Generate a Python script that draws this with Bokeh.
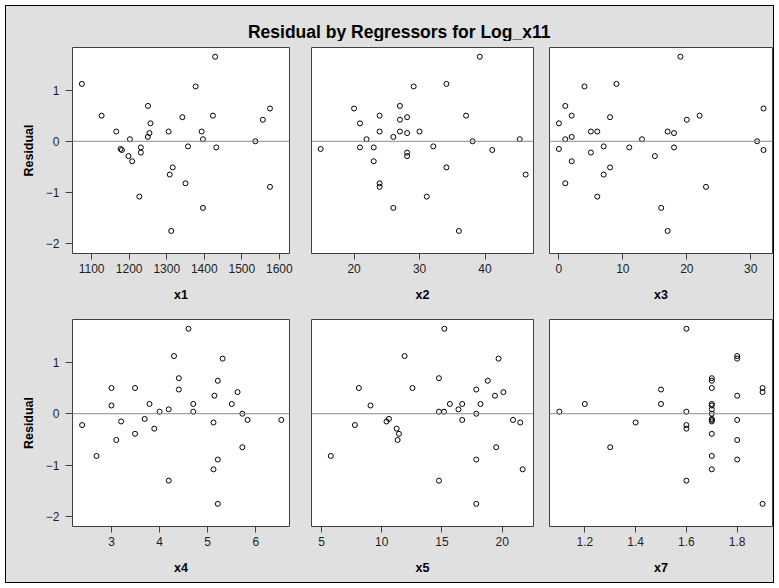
from bokeh.plotting import figure
from bokeh.layouts import column, row
from bokeh.models import Range1d, FixedTicker, Span
from bokeh.core.properties import value
from bokeh.embed import file_html
from bokeh.resources import INLINE

# ---- data (one entry per observation) ----
residual = [1.65, 1.12, 1.07, 0.69, 0.64, 0.50, 0.50, 0.47, 0.42, 0.35, 0.19, 0.19, 0.19,
            0.16, 0.085, 0.04, 0.04, 0.0, -0.10, -0.12, -0.12, -0.15, -0.17, -0.22, -0.29,
            -0.39, -0.51, -0.65, -0.82, -0.89, -1.08, -1.30, -1.75]
x1 = [1429, 1074, 1377, 1250, 1575, 1126.5, 1423, 1341.6, 1556, 1256.6, 1165.5, 1305, 1393,
      1254, 1249.6, 1202, 1396.5, 1536, 1356.6, 1231, 1432, 1177, 1180.5, 1231, 1198,
      1208, 1316, 1308, 1350, 1575, 1227, 1396.5, 1312]
x2 = [39.2, 34.1, 29.1, 27.0, 20.0, 23.9, 37.1, 28.1, 27.0, 20.9, 23.9, 27.0, 30.0,
      28.1, 26.0, 21.9, 45.3, 38.1, 32.1, 20.9, 23.0, 14.9, 41.1, 28.1, 28.1,
      23.0, 34.1, 46.2, 23.9, 23.9, 31.1, 26.0, 36.0]
x3 = [19, 9, 4, 1, 32, 2, 22, 8, 20, 0, 5, 6, 17,
      18, 2, 1, 13, 31, 7, 11, 18, 0, 32, 5, 15,
      2, 8, 7, 1, 23, 6, 16, 17]
x4 = [4.60, 4.30, 5.31, 4.40, 5.21, 3.00, 3.49, 4.40, 5.62, 5.14, 3.79, 4.70, 5.50,
      3.00, 4.19, 4.00, 4.70, 5.72, 3.69, 5.83, 6.53, 3.20, 5.12, 2.39, 3.89,
      3.49, 3.10, 5.72, 2.69, 5.21, 5.12, 4.19, 5.21]
x5 = [15.2, 11.9, 19.7, 14.75, 18.8, 8.1, 12.55, 17.85, 20.1, 19.4, 15.66, 16.68, 18.2,
      9.07, 16.37, 14.75, 15.17, 17.85, 10.6, 16.68, 20.9, 10.4, 21.5, 7.77, 11.24,
      11.43, 11.32, 19.5, 5.77, 17.85, 21.7, 14.75, 17.85]
x7 = [1.6, 1.8, 1.8, 1.7, 1.7, 1.7, 1.9, 1.5, 1.9, 1.8, 1.2, 1.5, 1.7,
      1.7, 1.7, 1.1, 1.6, 1.7, 1.7, 1.8, 1.7, 1.7, 1.4, 1.6, 1.6,
      1.7, 1.8, 1.3, 1.7, 1.8, 1.7, 1.6, 1.9]

x1_ticks = [1100, 1200, 1300, 1400, 1500, 1600]
x2_ticks = [20, 30, 40]
x3_ticks = [0, 10, 20, 30]
x4_ticks = [3, 4, 5, 6]
x5_ticks = [5, 10, 15, 20]
x7_ticks = [1.2, 1.4, 1.6, 1.8]
y_ticks = [-2, -1, 0, 1]

title_text = "Residual by Regressors for Log_x11"
y_label = "Residual"

GRAY = "#E0E0E0"
FONT = "Liberation Sans"
INK = "#1e1e1e"
YR = (-2.19, 1.83)


def panel(name, xs, xr, ticks, width, height, mbl, mbr, mbt, mbb, show_y):
    p = figure(width=width, height=height, x_range=Range1d(*xr), y_range=Range1d(*YR),
               output_backend="svg", toolbar_location=None, tools="",
               min_border_left=mbl, min_border_right=mbr,
               min_border_top=mbt, min_border_bottom=mbb,
               background_fill_color="white", border_fill_color=GRAY,
               outline_line_color="#404040", outline_line_width=1,
               y_axis_location="left" if show_y else None)
    p.grid.visible = False
    axes = [p.xaxis[0]] + ([p.yaxis[0]] if show_y else [])
    for ax in axes:
        ax.axis_line_color = None
        ax.major_tick_in = 0
        ax.major_tick_out = 6
        ax.minor_tick_in = 0
        ax.minor_tick_out = 0
        ax.major_tick_line_color = "#404040"
        ax.major_label_text_font = FONT
        ax.major_label_text_font_size = "12px"
        ax.major_label_text_color = INK
        ax.axis_label_text_font = FONT
        ax.axis_label_text_font_style = "bold"
        ax.axis_label_text_font_size = "12.5px"
        ax.axis_label_text_color = "black"
    xa = p.xaxis[0]
    xa.ticker = FixedTicker(ticks=ticks)
    xa.axis_label = name
    xa.major_label_standoff = 4
    xa.axis_label_standoff = 12
    if show_y:
        ya = p.yaxis[0]
        ya.ticker = FixedTicker(ticks=y_ticks)
        ya.axis_label = y_label
        ya.major_tick_out = 7
        ya.major_label_standoff = 6
        ya.axis_label_standoff = 7
    p.add_layout(Span(location=0, dimension="width", line_color="#8a8a8a", line_width=1))
    p.scatter(xs, residual, marker="circle", size=5, fill_color=None,
              line_color="black", line_width=1)
    return p


# title strip
tp = figure(width=767, height=35, x_range=Range1d(0, 1), y_range=Range1d(0, 1),
            output_backend="svg", toolbar_location=None, tools="",
            min_border=0, x_axis_location=None, y_axis_location=None,
            background_fill_color=GRAY, border_fill_color=GRAY, outline_line_color=None)
tp.grid.visible = False
tp.text(x=[0.512], y=[0.28], text=[title_text], text_font=value(FONT),
        text_font_style="bold", text_font_size="17.5px", text_align="center",
        text_baseline="middle", text_color="black")

p1 = panel("x1", x1, (1049, 1627), x1_ticks, 294, 268, 66, 11, 6, 56, True)
p2 = panel("x2", x2, (13.5, 47.4), x2_ticks, 241, 268, 11, 8, 6, 56, False)
p3 = panel("x3", x3, (-1.47, 33.4), x3_ticks, 232, 268, 8, 1, 6, 56, False)
p4 = panel("x4", x4, (2.19, 6.70), x4_ticks, 294, 273, 66, 11, 10, 56, True)
p5 = panel("x5", x5, (4.17, 22.6), x5_ticks, 241, 273, 11, 8, 10, 56, False)
p6 = panel("x7", x7, (1.061, 1.939), x7_ticks, 232, 273, 8, 1, 10, 56, False)

layout = column(tp, row(p1, p2, p3, spacing=0), row(p4, p5, p6, spacing=0), spacing=0,
                styles={"border": "1px solid black", "margin": "5px",
                        "background-color": GRAY})

open("out.html", "w").write(file_html(layout, INLINE))
